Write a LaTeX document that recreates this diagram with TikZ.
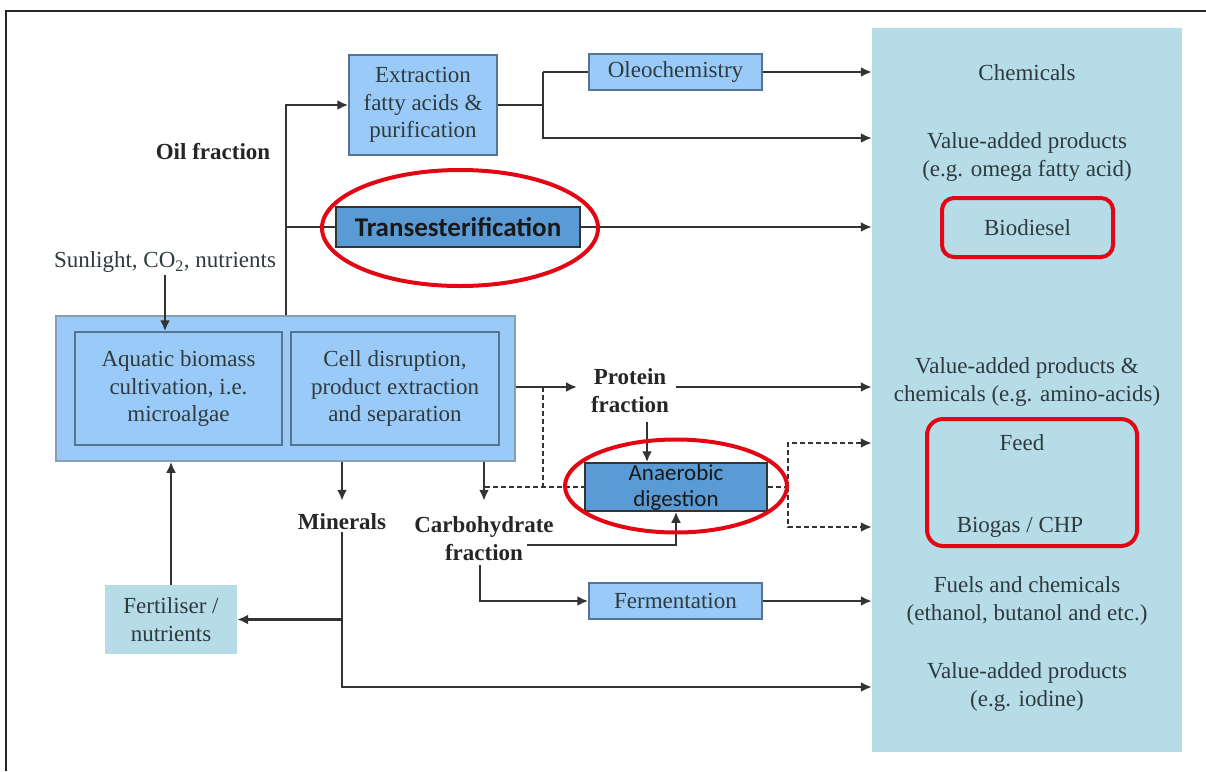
\documentclass[tikz,border=0pt]{standalone}
\usepackage{fontspec}
\setmainfont{Liberation Serif}
\newfontfamily\calibrifont{Carlito}
\usetikzlibrary{arrows.meta,positioning,shapes.geometric,calc}
\definecolor{AlgaeBlue}{HTML}{9ACBF8}
\definecolor{AlgaeDark}{HTML}{5B9BD5}
\definecolor{AlgaeEdge}{HTML}{557590}
\definecolor{AlgaePale}{HTML}{B5DCE7}
\definecolor{AlgaeRed}{HTML}{E30613}
\definecolor{AlgaeText}{HTML}{2F3A3E}

\begin{document}
\begin{tikzpicture}[x=1pt, y=-1pt,
  txt/.style={font=\fontsize{23}{27.5}\selectfont, text=AlgaeText, align=center, inner sep=2pt},
  lbl/.style={txt, font=\fontsize{23}{28}\selectfont\bfseries, text=black!85},
  box/.style={txt, draw=AlgaeEdge, line width=1.5pt, fill=AlgaeBlue, inner sep=0pt},
  darkbox/.style={draw=black!80, line width=1.5pt, fill=AlgaeDark, text=black!90, align=center, inner sep=0pt},
  link/.style={line width=2.2pt, draw=black!80},
  arr/.style={link, -{Latex[length=11pt,width=10pt]}},
  dashline/.style={link, dash pattern=on 5pt off 3pt},
  dasharr/.style={dashline, -{Latex[length=11pt,width=10pt]}},
  ring/.style={draw=AlgaeRed, line width=4pt}]
\useasboundingbox (0,0) rectangle (1206,771);

% Frame
\draw[line width=2.5pt, black!85] (6,771) -- (6,11) -- (1206,11);

% Products column
\node[fill=AlgaePale, minimum width=310pt, minimum height=724pt, inner sep=0pt] (prod) at (1027,390) {};
\node[txt] (chem) at (1027,73) {Chemicals};
\node[txt] (vapomega) at (1027,157) {Value-added products\\(e.g. omega fatty acid)};
\node[txt, ring, rounded corners=12pt, minimum width=171pt, minimum height=59pt] (biod) at (1027.5,227.5) {Biodiesel};
\node[txt] (vapamino) at (1027,382) {Value-added products \&\\chemicals (e.g. amino-acids)};
\node[ring, rounded corners=16pt, minimum width=210pt, minimum height=127pt] (feedring) at (1032,482.5) {};
\node[txt] (feed) at (1022,443) {Feed};
\node[txt] (biogas) at (1020,527) {Biogas / CHP};
\node[txt] (fuels) at (1027,601) {Fuels and chemicals\\(ethanol, butanol and etc.)};
\node[txt] (vapiodine) at (1027,687) {Value-added products\\(e.g. iodine)};

% Process boxes
\node[draw=AlgaeEdge!70, line width=1.5pt, fill=AlgaeBlue, minimum width=459pt, minimum height=145pt] (big) at (285.5,388.5) {};
\node[box, minimum width=207pt, minimum height=113pt] (cult) at (178.5,388.5) {Aquatic biomass\\cultivation, i.e.\\microalgae};
\node[box, minimum width=208pt, minimum height=113pt] (sep) at (395,388.5) {Cell disruption,\\product extraction\\and separation};
\node[box, minimum width=148pt, minimum height=100pt] (extr) at (423,105) {Extraction\\fatty acids \&\\purification};
\node[box, minimum width=173pt, minimum height=36pt] (oleo) at (675.5,72) {Oleochemistry};
\node[darkbox, minimum width=244pt, minimum height=40pt, font=\calibrifont\bfseries\fontsize{27}{30}\selectfont] (trans) at (458,227) {Transesterification};
\node[darkbox, minimum width=182pt, minimum height=48pt, font=\calibrifont\fontsize{23}{26}\selectfont] (anaer) at (676,487) {Anaerobic\\digestion};
\node[box, minimum width=173pt, minimum height=36pt] (ferm) at (675.5,601) {Fermentation};
\node[txt, fill=AlgaePale, minimum width=132pt, minimum height=69pt, inner sep=0pt] (fert) at (171,619.5) {Fertiliser /\\nutrients};

% Labels
\node[txt] (sun) at (165,262) {Sunlight, CO\textsubscript{2}, nutrients};
\node[lbl] (oil) at (213,152) {Oil fraction};
\node[lbl] (prot) at (630,391) {Protein\\fraction};
\node[lbl] (minr) at (342,522) {Minerals};
\node[lbl] (carb) at (484,539) {Carbohydrate\\fraction};

% Oil fraction branch
\coordinate (oiltop) at (286,105);
\coordinate (fork) at (543,105);
\coordinate (forklow) at (543,138);
\draw[arr] (big.north -| oiltop) -- (oiltop) -- (extr.west);
\draw[link] (extr.east) -- (fork);
\draw[link] (fork |- oleo.west) -- (oleo.west);
\draw[arr] (fork |- oleo.west) -- (forklow) -- (forklow -| prod.west);
\draw[arr] (oleo.east) -- (oleo.east -| prod.west);
\draw[link] (trans.west -| oiltop) -- (trans.west);
\draw[arr] (trans.east) -- (trans.east -| prod.west);

% Inputs
\draw[arr] (sun.south) -- (sun.south |- cult.north);
\draw[arr] (fert.north) -- (fert.north |- big.south);

% Protein fraction
\coordinate (protin) at (577,387);
\coordinate (protout) at (676,387);
\coordinate (protdn) at (647,422);
\draw[arr] (big.east |- protin) -- (protin);
\draw[arr] (protout) -- (protout -| prod.west);
\draw[arr] (protdn) -- (protdn |- anaer.north);

% Dashed residue to digestion
\coordinate (dtop) at (543,387);
\coordinate (dleft) at (485,487);
\coordinate (dfork) at (788,487);
\draw[dashline] (dtop) -- (dtop |- dleft);
\draw[dashline] (dleft) -- (anaer.west);
\draw[dashline] (anaer.east) -- (dfork);
\draw[dasharr] (dfork) |- (prod.west |- feed);
\draw[dasharr] (dfork) |- (prod.west |- biogas);

% Carbohydrate fraction
\coordinate (carbout) at (527,545);
\coordinate (carbdn) at (480,565);
\draw[arr] (big.south -| carb) -- ++(0,39);
\draw[arr] (carbout) -| (anaer.south);
\draw[arr] (carbdn) |- (ferm.west);
\draw[arr] (ferm.east) -- (ferm.east -| prod.west);

% Minerals
\coordinate (mbot) at (342,687);
\draw[arr] (big.south -| minr) -- ++(0,39);
\draw[arr] (minr.south) -- (mbot) -- (mbot -| prod.west);
\draw[arr] (minr.south |- fert.east) -- (fert.east);

% Highlights
\node[ring, ellipse, minimum width=276pt, minimum height=116pt] (transring) at (460,228) {};
\node[ring, ellipse, minimum width=222pt, minimum height=93pt] (anaerring) at (676,486) {};
\end{tikzpicture}
\end{document}
